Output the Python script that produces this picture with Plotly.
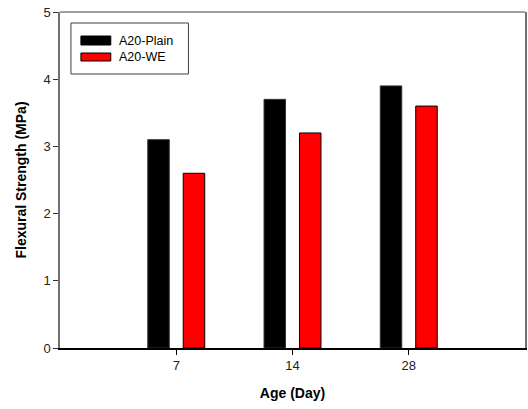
import plotly.graph_objects as go

categories = ["7", "14", "28"]
plain = [3.1, 3.7, 3.9]
we = [2.6, 3.2, 3.6]
series_names = ["A20-Plain", "A20-WE"]
y_ticks = [0, 1, 2, 3, 4, 5]

xpos = [1, 2, 3]

fig = go.Figure()
fig.add_trace(go.Bar(x=xpos, y=plain, name=series_names[0], offset=-0.245, width=0.185,
                     marker=dict(color="black", line=dict(color="#333333", width=1)), showlegend=False))
fig.add_trace(go.Bar(x=xpos, y=we, name=series_names[1], offset=0.06, width=0.185,
                     marker=dict(color="#ff0000", line=dict(color="black", width=1)), showlegend=False))

W0, W1 = 60, 527
T, B = 12, 348
def px(x):
    return (x - W0) / (W1 - W0)
def py(y):
    return (B - y) / (B - T)

shapes = [
    dict(type="line", xref="paper", yref="paper", x0=0, x1=1, y0=1, y1=1,
         line=dict(color="#808080", width=1.5)),
    dict(type="rect", xref="paper", yref="paper", x0=px(71), x1=px(189), y0=py(74), y1=py(23),
         line=dict(color="#404040", width=1), fillcolor="white"),
    dict(type="rect", xref="paper", yref="paper", x0=px(81), x1=px(111), y0=py(45), y1=py(36),
         line=dict(color="black", width=1), fillcolor="black"),
    dict(type="rect", xref="paper", yref="paper", x0=px(81), x1=px(111), y0=py(61), y1=py(53),
         line=dict(color="black", width=1), fillcolor="#ff0000"),
]
annotations = [
    dict(xref="paper", yref="paper", x=px(117), y=py(40.5), text=series_names[0], showarrow=False,
         xanchor="left", yanchor="middle", font=dict(family="Arial, Liberation Sans", size=12.5, color="black")),
    dict(xref="paper", yref="paper", x=px(117), y=py(57), text=series_names[1], showarrow=False,
         xanchor="left", yanchor="middle", font=dict(family="Arial, Liberation Sans", size=12.5, color="black")),
]

fig.update_layout(
    width=528, height=409,
    margin=dict(l=60, r=1, t=12, b=61),
    paper_bgcolor="white", plot_bgcolor="white",
    font=dict(family="Arial, Liberation Sans", size=13, color="#222222"),
    barmode="overlay",
    shapes=shapes, annotations=annotations,
    xaxis=dict(range=[0, 4], tickvals=xpos, ticktext=categories, showgrid=False, zeroline=False,
               showline=True, linecolor="black", linewidth=1.5, ticks="outside", ticklen=5,
               tickcolor="black", tickfont=dict(size=13),
               title=dict(text="<b>Age (Day)</b>", font=dict(size=14, color="black"), standoff=16)),
    yaxis=dict(range=[0, 5], tickvals=y_ticks, showgrid=False, zeroline=False,
               showline=True, linecolor="#707070", linewidth=1.5, mirror=True, ticks="outside", ticklen=5,
               tickcolor="#333333", tickfont=dict(size=13),
               title=dict(text="<b>Flexural Strength (MPa)</b>", font=dict(size=14, color="black"), standoff=14)),
)

fig.write_html("out.html")
